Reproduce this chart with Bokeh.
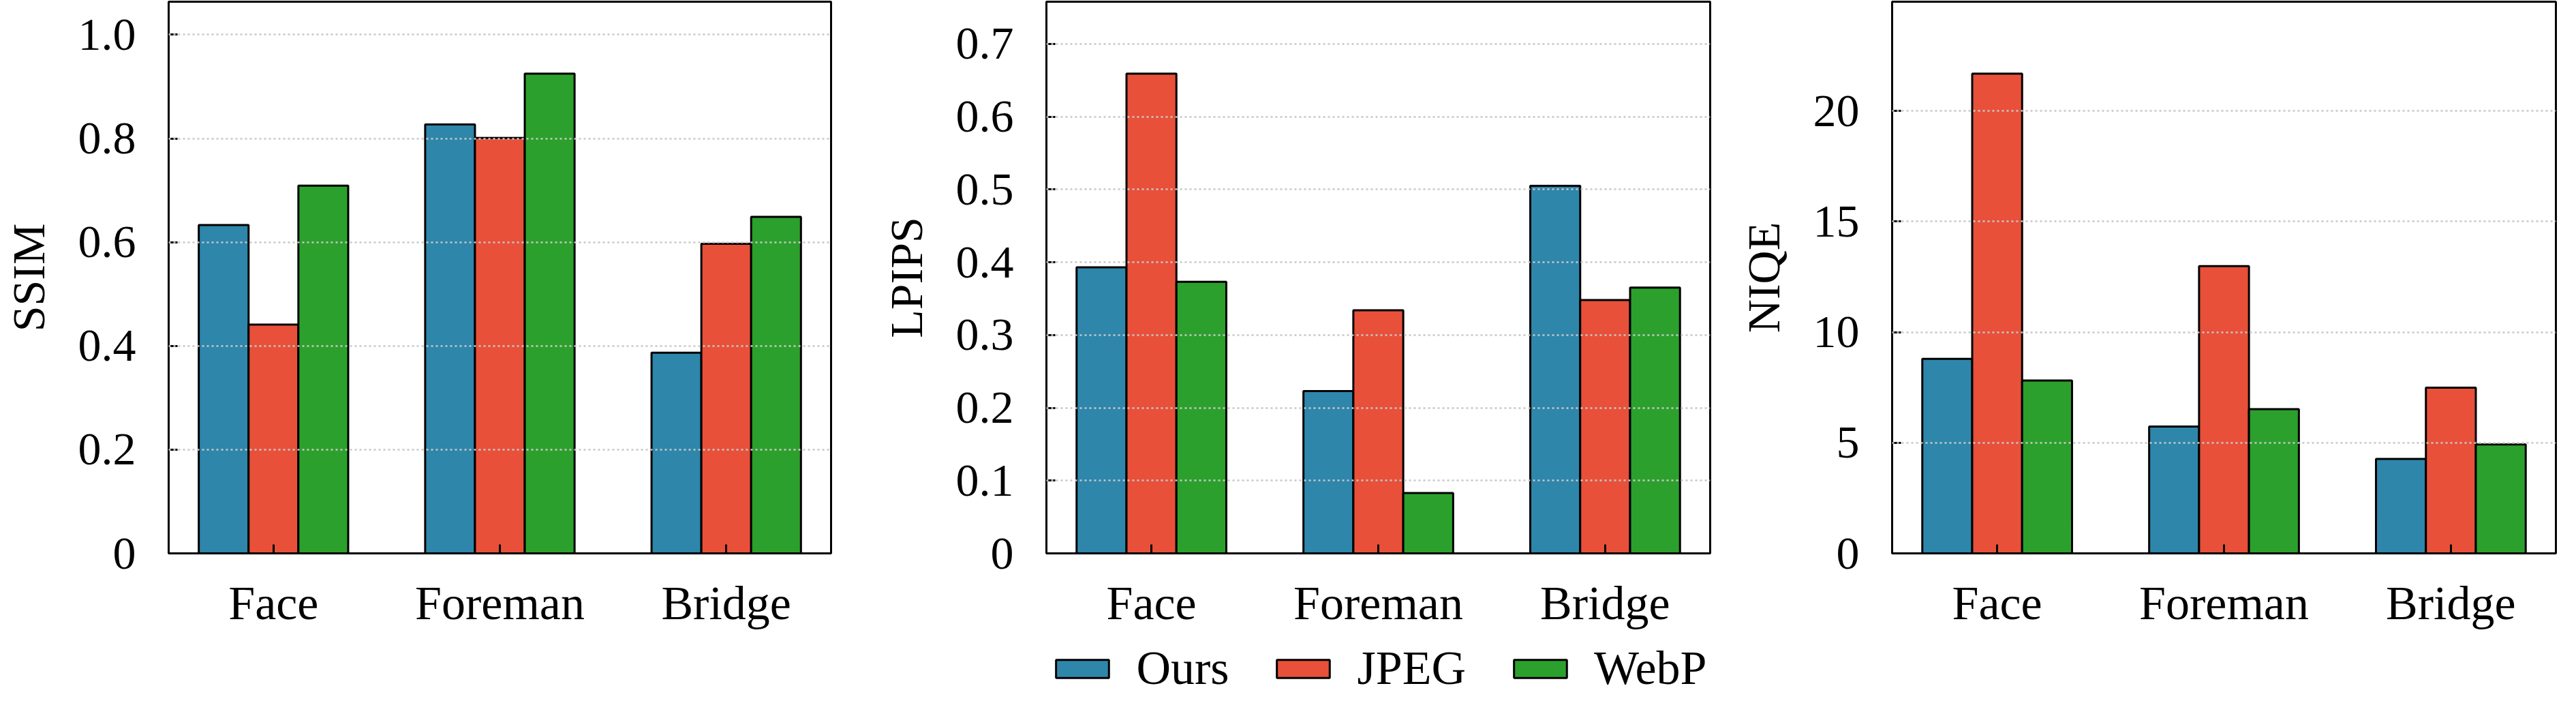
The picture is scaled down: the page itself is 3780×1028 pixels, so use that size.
from bokeh.embed import file_html
from bokeh.layouts import column, row
from bokeh.models import ColumnDataSource, FixedTicker, Legend, LegendItem, Range1d, Spacer
from bokeh.plotting import figure
from bokeh.resources import INLINE

categories = ["Face", "Foreman", "Bridge"]
methods = ["Ours", "JPEG", "WebP"]
colors = ["#2E86AB", "#E8503A", "#2CA02C"]

ssim_ours = [0.633, 0.827, 0.387]
ssim_jpeg = [0.441, 0.801, 0.597]
ssim_webp = [0.709, 0.925, 0.649]

lpips_ours = [0.393, 0.223, 0.505]
lpips_jpeg = [0.659, 0.334, 0.348]
lpips_webp = [0.373, 0.083, 0.365]

niqe_ours = [8.79, 5.73, 4.27]
niqe_jpeg = [21.68, 12.98, 7.49]
niqe_webp = [7.81, 6.52, 4.92]

ssim_ticks = [0, 0.2, 0.4, 0.6, 0.8, 1.0]
ssim_tick_labels = ["0", "0.2", "0.4", "0.6", "0.8", "1.0"]
lpips_ticks = [0, 0.1, 0.2, 0.3, 0.4, 0.5, 0.6, 0.7]
lpips_tick_labels = ["0", "0.1", "0.2", "0.3", "0.4", "0.5", "0.6", "0.7"]
niqe_ticks = [0, 5, 10, 15, 20]
niqe_tick_labels = ["0", "5", "10", "15", "20"]

FONT = "Liberation Serif"
BAR_W = 0.22
PANEL_H = 940
LEGEND_H = 80


def bars(p, series):
    renderers = []
    for k, (vals, c) in enumerate(zip(series, colors)):
        xs = [i + (k - 1) * BAR_W for i in range(len(categories))]
        src = ColumnDataSource(dict(x=xs, top=vals))
        r = p.vbar(x="x", top="top", width=BAR_W, source=src, fill_color=c,
                   line_color="black", line_width=3)
        renderers.append(r)
    return renderers


def make_panel(ylabel, series, ticks, tick_labels, width, border_left):
    top = max(max(s) for s in series) * 1.15
    p = figure(width=width, height=PANEL_H, output_backend="svg", toolbar_location=None,
               x_range=Range1d(-0.463, 2.463), y_range=Range1d(0, top),
               min_border_left=border_left, min_border_right=10,
               min_border_top=2, min_border_bottom=PANEL_H - 811)
    p.outline_line_color = "black"
    p.outline_line_width = 3
    p.outline_line_alpha = 1

    bars(p, series)

    p.xgrid.grid_line_color = None
    p.ygrid.grid_line_color = "#c8c8c8"
    p.ygrid.grid_line_width = 2.5
    p.ygrid.grid_line_dash = "3 4"
    p.ygrid.level = "annotation"

    p.xaxis.ticker = FixedTicker(ticks=list(range(len(categories))))
    p.xaxis.major_label_overrides = {i: c for i, c in enumerate(categories)}
    p.yaxis.ticker = FixedTicker(ticks=ticks)
    p.yaxis.major_label_overrides = dict(zip(ticks, tick_labels))

    for ax in (p.xaxis[0], p.yaxis[0]):
        ax.axis_line_width = 3
        ax.axis_line_color = "black"
        ax.major_tick_in = 13
        ax.major_tick_out = 0
        ax.major_tick_line_width = 3
        ax.minor_tick_line_color = None
        ax.major_label_text_font = FONT
        ax.major_label_text_color = "black"
        ax.axis_label_text_font = FONT
        ax.axis_label_text_font_style = "normal"
        ax.axis_label_text_color = "black"
        ax.axis_label_text_font_size = "68px"
    p.xaxis.major_label_text_font_size = "70px"
    p.xaxis.major_label_standoff = 34
    p.yaxis.major_label_text_font_size = "68px"
    p.yaxis.major_label_standoff = 48
    p.yaxis.axis_label = ylabel
    p.yaxis.axis_label_standoff = 32
    return p


p1 = make_panel("SSIM", [ssim_ours, ssim_jpeg, ssim_webp], ssim_ticks, ssim_tick_labels, 1229, 246)
p2 = make_panel("LPIPS", [lpips_ours, lpips_jpeg, lpips_webp], lpips_ticks, lpips_tick_labels, 1290, 306)
p3 = make_panel("NIQE", [niqe_ours, niqe_jpeg, niqe_webp], niqe_ticks, niqe_tick_labels, 1241, 257)

# legend strip under the middle panel; its bars are hidden, only the legend shows
lf = figure(width=1290, height=LEGEND_H, output_backend="svg", toolbar_location=None,
            x_range=Range1d(-0.463, 2.463), y_range=Range1d(0, 1),
            min_border_left=306, min_border_right=10, min_border_top=0, min_border_bottom=0,
            x_axis_type=None, y_axis_type=None, outline_line_color=None)
lf.xgrid.grid_line_color = None
lf.ygrid.grid_line_color = None
legend_renderers = bars(lf, [lpips_ours, lpips_jpeg, lpips_webp])
for r in legend_renderers:
    r.visible = False
items = [LegendItem(label=m, renderers=[r]) for m, r in zip(methods, legend_renderers)]
lg = Legend(items=items, orientation="horizontal", location="center",
            glyph_width=97, glyph_height=33, label_standoff=31, spacing=60,
            padding=0, margin=0, border_line_alpha=0, background_fill_alpha=0,
            label_text_font=FONT, label_text_font_size="70px", label_text_color="black")
lf.add_layout(lg, "center")

layout = column(row(p1, p2, p3), row(Spacer(width=1229, height=LEGEND_H), lf))
open("out.html", "w").write(file_html(layout, INLINE))
